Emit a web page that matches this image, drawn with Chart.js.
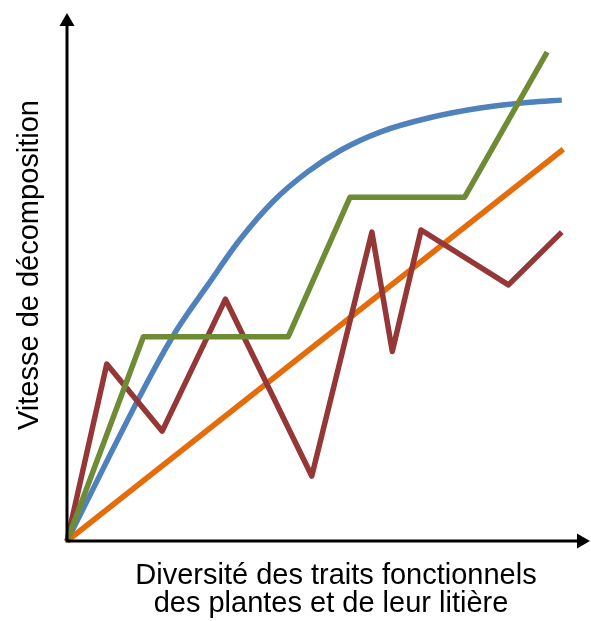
<!DOCTYPE html>
<html>
<head>
<meta charset="utf-8">
<script src="https://cdn.jsdelivr.net/npm/chart.js@4.4.1/dist/chart.umd.min.js"></script>
<style>
  html, body { margin: 0; padding: 0; background: #fff; }
  #wrap { width: 591px; height: 621px; }
</style>
</head>
<body>
<div id="wrap"><canvas id="chart"></canvas></div>
<script>
// values (x: diversity 0-100, y: decomposition 0-100)
const blueX = [0, 15.9, 21, 27, 33, 39.5, 46, 52.5, 60, 69.5, 79, 88.5, 94.6];
const blueY = [0, 31.1, 40.0, 48.6, 57.0, 64.4, 69.9, 74.1, 77.5, 80.2, 82.0, 83.1, 83.5];

const orangeX = [0, 94.9];
const orangeY = [0, 74.2];

const greenX = [0, 14.6, 42.3, 54.1, 76.0, 91.8];
const greenY = [0, 38.7, 38.7, 65.1, 65.1, 92.6];

const redX = [0, 7.6, 18.2, 30.3, 46.8, 58.3, 62.2, 67.7, 84.4, 94.6];
const redY = [0, 33.5, 20.8, 45.8, 12.3, 58.5, 35.9, 58.9, 48.5, 58.5];

const xTitle = ["Diversité des traits fonctionnels", "des plantes et de leur litière"];
const yTitle = "Vitesse de décomposition";

const toPoints = (xs, ys) => xs.map((x, i) => ({ x: x, y: ys[i] }));

// draws the arrow axes and the two titles
const arrowAxes = {
  id: "arrowAxes",
  afterDatasetsDraw(chart) {
    const ctx = chart.ctx;
    const xs = chart.scales.x;
    const ys = chart.scales.y;
    const x0 = xs.getPixelForValue(0);
    const y0 = ys.getPixelForValue(0);
    const xEnd = xs.right;
    const yEnd = ys.top;
    const head = 13;
    const half = 7.5;

    ctx.save();
    ctx.strokeStyle = "#000";
    ctx.fillStyle = "#000";
    ctx.lineWidth = 3;
    ctx.lineCap = "butt";
    ctx.beginPath();
    ctx.moveTo(x0, y0);
    ctx.lineTo(xEnd - head, y0);
    ctx.moveTo(x0, y0 + 1.5);
    ctx.lineTo(x0, yEnd + head);
    ctx.stroke();

    ctx.beginPath();
    ctx.moveTo(xEnd, y0);
    ctx.lineTo(xEnd - head, y0 - half);
    ctx.lineTo(xEnd - head, y0 + half);
    ctx.closePath();
    ctx.fill();

    ctx.beginPath();
    ctx.moveTo(x0, yEnd);
    ctx.lineTo(x0 - half, yEnd + head);
    ctx.lineTo(x0 + half, yEnd + head);
    ctx.closePath();
    ctx.fill();

    ctx.font = "29px 'Liberation Sans', Arial, sans-serif";
    ctx.textAlign = "center";
    ctx.textBaseline = "alphabetic";
    ctx.fillText(xTitle[0], 336, y0 + 43);
    ctx.fillText(xTitle[1], 331, y0 + 71);

    ctx.translate(38, y0 - 276);
    ctx.rotate(-Math.PI / 2);
    ctx.fillText(yTitle, 0, 0);
    ctx.restore();
  }
};

new Chart(document.getElementById("chart"), {
  type: "line",
  data: {
    datasets: [
      {
        label: "vert",
        data: toPoints(greenX, greenY),
        borderColor: "#6E8B35",
        order: 0
      },
      {
        label: "rouge",
        data: toPoints(redX, redY),
        borderColor: "#953736",
        order: 1
      },
      {
        label: "orange",
        data: toPoints(orangeX, orangeY),
        borderColor: "#E46C0A",
        order: 2
      },
      {
        label: "bleu",
        data: toPoints(blueX, blueY),
        borderColor: "#4F81BD",
        cubicInterpolationMode: "monotone",
        order: 3
      }
    ]
  },
  options: {
    responsive: true,
    maintainAspectRatio: false,
    animation: false,
    layout: { padding: { left: 67, top: 13, right: 1, bottom: 80 } },
    elements: {
      line: { borderWidth: 5.5, fill: false, borderCapStyle: "butt", borderJoinStyle: "round" },
      point: { radius: 0, hoverRadius: 0 }
    },
    scales: {
      x: { type: "linear", min: 0, max: 100, display: false },
      y: { type: "linear", min: 0, max: 100, display: false }
    },
    plugins: {
      legend: { display: false },
      tooltip: { enabled: false }
    },
    clip: false
  },
  plugins: [arrowAxes]
});
</script>
</body>
</html>
